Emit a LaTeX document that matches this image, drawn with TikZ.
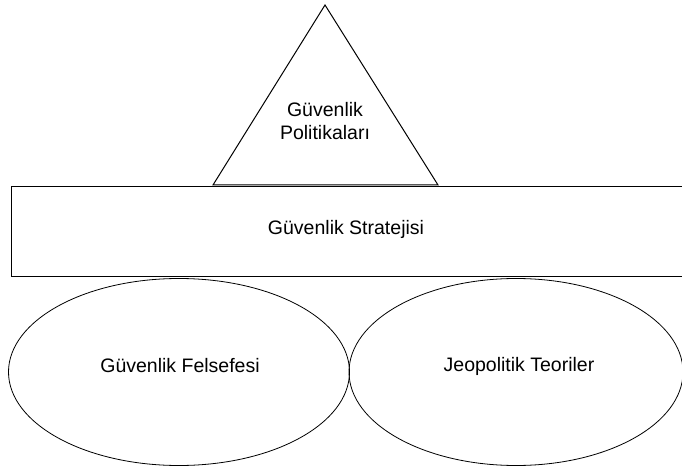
\documentclass[tikz,border=0pt]{standalone}
\usepackage{fontspec}
\setmainfont{Liberation Sans}
\usetikzlibrary{shapes.geometric, positioning}

\begin{document}
\begin{tikzpicture}[x=1pt, y=-1pt, line width=1pt, font=\fontsize{19.5}{23}\selectfont]
    \useasboundingbox (0, 0) rectangle (682, 470);
    \node[draw, rectangle, minimum width=680pt, minimum height=90pt, anchor=north west] (strateji) at (11, 186) {};
    \node[] (stratejiText) at (346, 229) {Güvenlik Stratejisi};
    \node[draw, ellipse, minimum width=341pt, minimum height=187pt, line width=0.8pt] (felsefe) at (179, 372) {};
    \node[draw, ellipse, minimum width=334pt, minimum height=187pt, line width=0.8pt] (jeopolitik) at (516, 372) {};
    \node[] (felsefeText) at (180, 366) {Güvenlik Felsefesi};
    \node[] (jeopolitikText) at (519, 366) {Jeopolitik Teoriler};
    \node[align=center] (politika) at (325, 121) {Güvenlik\\Politikaları};
    \draw
    (213, 185) -- (325, 5) -- (438, 185) -- cycle;
\end{tikzpicture}
\end{document}
